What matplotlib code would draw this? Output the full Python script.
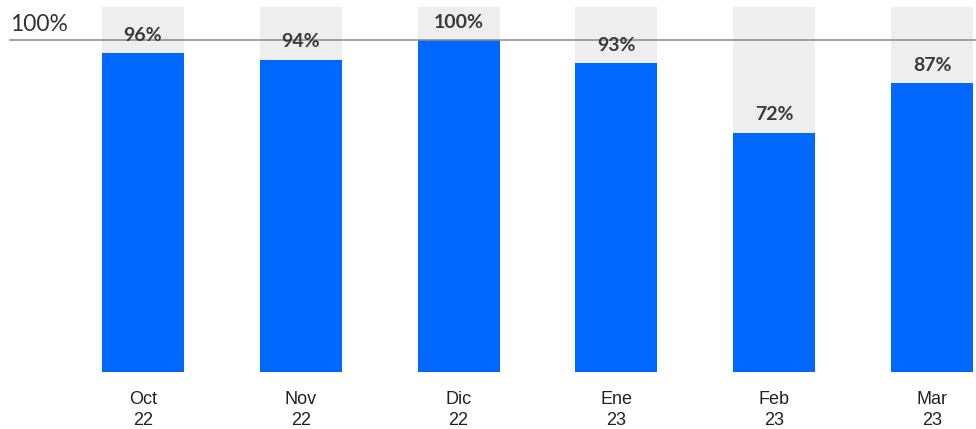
import numpy as np
import matplotlib.pyplot as plt

meses = ['Oct\n22', 'Nov\n22', 'Dic\n22', 'Ene\n23', 'Feb\n23', 'Mar\n23']
valores = [96, 94, 100, 93, 72, 87]
tope = 110

fig = plt.figure(figsize=(9.76, 4.29), dpi=100)
ax = fig.add_axes([0, 57 / 429, 1, 372 / 429])

x = np.arange(len(meses))
ax.bar(x, [tope] * len(x), width=0.52, color='#eeeeee', zorder=1)
ax.bar(x, valores, width=0.52, color='#0068ff', zorder=2)

# linea de referencia 100%
ax.axhline(100, xmin=10 / 976, xmax=1, color='#8a8a8a', lw=1.1, zorder=3)
ax.text(-0.84, 101.5, '100%', fontsize=16.5, family='Lato', color='#333333', va='bottom')

for xi, v in zip(x, valores):
    ax.annotate(f'{v}%', (xi, v), xytext=(0, 9), textcoords='offset points',
                ha='center', va='baseline', fontsize=14, family='Lato',
                fontweight='bold', color='#3a3a3a', zorder=4)

ax.set_xlim(-143 / 157.8, (976 - 143) / 157.8)
ax.set_ylim(0, 372 / 3.32)
ax.set_xticks(x)
ax.set_xticklabels(meses, fontsize=13, family='Liberation Sans', color='#222222', linespacing=1.25)
ax.tick_params(axis='x', length=0, pad=14)
ax.set_yticks([])
for s in ax.spines.values():
    s.set_visible(False)

plt.savefig('out.png', dpi=100)
